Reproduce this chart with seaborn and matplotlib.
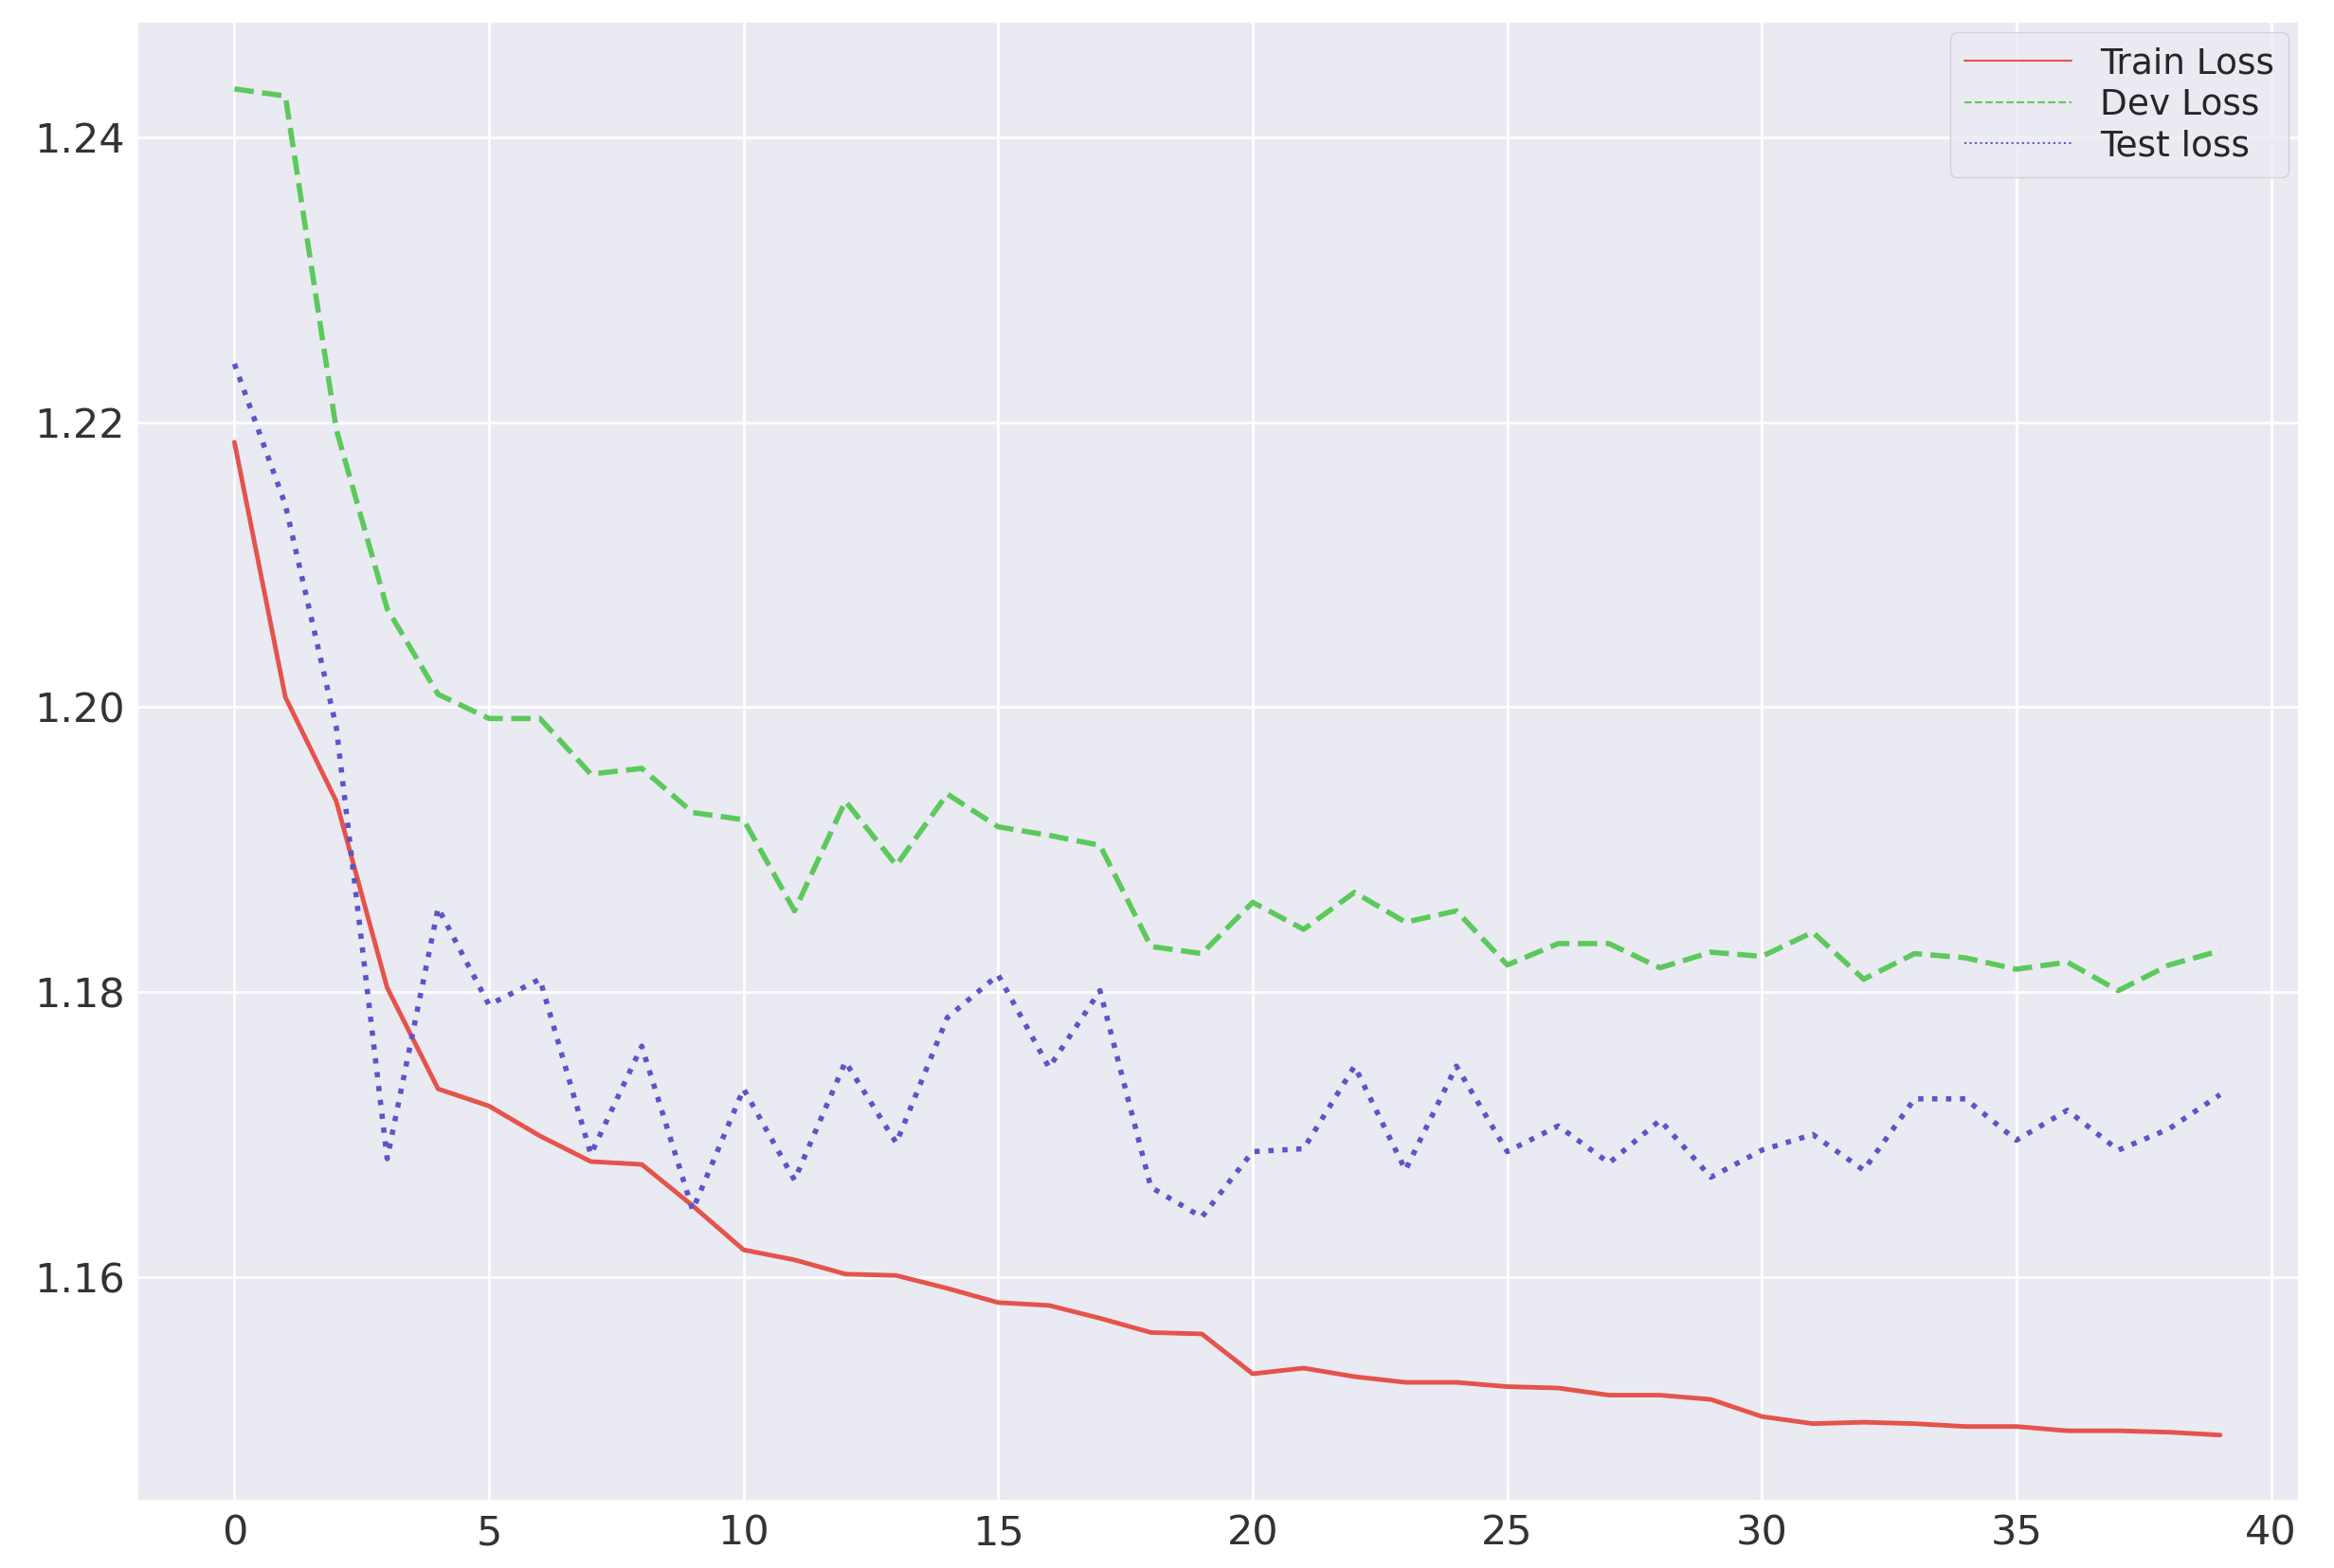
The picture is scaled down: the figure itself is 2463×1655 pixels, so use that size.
import numpy as np
import pandas as pd
import matplotlib
matplotlib.use('Agg')
import matplotlib.pyplot as plt
import seaborn as sns

epochs = list(range(40))
train_loss = [1.2186, 1.2007, 1.1934, 1.1803, 1.1732, 1.1720, 1.1699, 1.1681, 1.1679, 1.1650,
              1.1619, 1.1612, 1.1602, 1.1601, 1.1592, 1.1582, 1.1580, 1.1571, 1.1561, 1.1560,
              1.1532, 1.1536, 1.1530, 1.1526, 1.1526, 1.1523, 1.1522, 1.1517, 1.1517, 1.1514,
              1.1502, 1.1497, 1.1498, 1.1497, 1.1495, 1.1495, 1.1492, 1.1492, 1.1491, 1.1489]
dev_loss = [1.2434, 1.2429, 1.2195, 1.2069, 1.2009, 1.1992, 1.1992, 1.1953, 1.1957, 1.1926,
            1.1921, 1.1857, 1.1934, 1.1889, 1.1939, 1.1916, 1.1910, 1.1903, 1.1832, 1.1827,
            1.1863, 1.1844, 1.1870, 1.1849, 1.1857, 1.1819, 1.1834, 1.1834, 1.1817, 1.1828,
            1.1825, 1.1842, 1.1809, 1.1827, 1.1824, 1.1816, 1.1821, 1.1801, 1.1819, 1.1829]
test_loss = [1.2241, 1.2142, 1.1986, 1.1683, 1.1859, 1.1791, 1.1809, 1.1686, 1.1762, 1.1647,
             1.1732, 1.1668, 1.1751, 1.1694, 1.1782, 1.1812, 1.1747, 1.1801, 1.1663, 1.1642,
             1.1688, 1.1690, 1.1748, 1.1675, 1.1748, 1.1688, 1.1706, 1.1680, 1.1710, 1.1670,
             1.1689, 1.1700, 1.1675, 1.1725, 1.1725, 1.1696, 1.1717, 1.1689, 1.1704, 1.1728]

sns.set_theme(style='darkgrid')
plt.rcParams['font.family'] = ['DejaVu Sans']

fig = plt.figure(figsize=(24.63, 16.55), dpi=100)
ax = fig.add_axes([0.059, 0.043, 0.926, 0.943])

sns.lineplot(x=epochs, y=train_loss, ax=ax, color='#e5534b', lw=3.5, label='Train Loss')
sns.lineplot(x=epochs, y=dev_loss, ax=ax, color='#5cc95c', lw=4, linestyle='--', label='Dev Loss')
sns.lineplot(x=epochs, y=test_loss, ax=ax, color='#5a55c8', lw=4, linestyle=':', label='Test loss')

ax.set_xlim(-1.9, 40.55)
ax.set_ylim(1.1443, 1.2481)
ax.set_xticks(range(0, 41, 5))
ax.set_yticks([1.16, 1.18, 1.20, 1.22, 1.24])
ax.grid(color='white', lw=2)
ax.tick_params(labelsize=31, colors='#333333')

leg = ax.legend(loc='upper right', fontsize=27, handlelength=3,
                labelspacing=0.2, borderaxespad=0.3)
for line in leg.get_lines():
    line.set_linewidth(1.5)

fig.savefig('out.png', dpi=100)
